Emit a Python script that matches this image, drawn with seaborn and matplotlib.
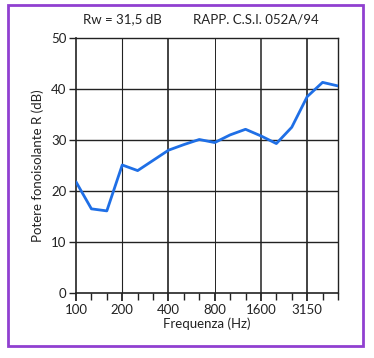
import matplotlib
matplotlib.use("Agg")
import matplotlib.pyplot as plt
import seaborn as sns
import pandas as pd
from matplotlib.patches import Rectangle

bands = [100, 125, 160, 200, 250, 315, 400, 500, 630, 800, 1000, 1250,
         1600, 2000, 2500, 3150, 4000, 5000]
r_db = [21.8, 16.5, 16.1, 25.1, 24.0, 26.0, 28.0, 29.1, 30.1, 29.5, 31.0,
        32.1, 30.8, 29.3, 32.5, 38.5, 41.3, 40.6]
tick_labels = ["100", "200", "400", "800", "1600", "3150"]
tick_bands = [100, 200, 400, 800, 1600, 3150]
y_ticks = [0, 10, 20, 30, 40, 50]

sns.set_theme(style="white")
plt.rcParams['font.family'] = ['Lato', 'DejaVu Sans']

df = pd.DataFrame({"idx": list(range(len(bands))), "R": r_db})

fig = plt.figure(figsize=(3.74, 3.58), dpi=100)
ax = fig.add_axes([76/374, 1-293/358, (338-76)/374, (293-38)/358])

major_idx = [bands.index(b) for b in tick_bands]
widths = {200: 0.8, 400: 1.2, 800: 0.7, 1600: 1.1, 3150: 1.2}
for b in tick_bands[1:]:
    ax.axvline(bands.index(b), color="#222222", lw=widths[b], zorder=1)
for y in y_ticks[1:-1]:
    ax.axhline(y, color="#222222", lw=1.0, zorder=1)

sns.lineplot(data=df, x="idx", y="R", ax=ax, color="#1f6fe6", lw=2.0, zorder=3)

ax.set_xlim(0, len(bands) - 1)
ax.set_ylim(0, 50)
ax.set_xticks(major_idx)
ax.set_xticklabels(tick_labels)
ax.set_xticks(list(range(len(bands))), minor=True)
ax.set_yticks(y_ticks)
ax.tick_params(axis="x", which="both", bottom=True, direction="out", length=5,
               width=1, color="#222222", labelsize=9.5, pad=2, labelcolor="#222222")
ax.tick_params(axis="x", which="major", length=6, width=1.3)
ax.tick_params(axis="y", which="major", left=True, direction="out", length=5,
               width=1, color="#222222", labelsize=9.5, pad=2, labelcolor="#222222")
for s in ax.spines.values():
    s.set_color("#222222")
    s.set_linewidth(1.0)
ax.spines["left"].set_linewidth(1.2)
ax.spines["bottom"].set_linewidth(1.2)

ax.set_xlabel("Frequenza (Hz)", fontsize=9.5, color="#222222", labelpad=1)
ax.set_ylabel("Potere fonoisolante R (dB)", fontsize=9.5, color="#222222", labelpad=5)

fig.text(122/374, 1-19/358, "Rw = 31,5 dB", ha="center", va="center",
         fontsize=9.5, color="#222222")
fig.text(256/374, 1-19/358, "RAPP. C.S.I. 052A/94", ha="center", va="center",
         fontsize=9.5, color="#222222")

fig.patches.append(Rectangle((8/374, 1-346/358), (363-8)/374, (346-5)/358,
                             transform=fig.transFigure, fill=False,
                             edgecolor="#9040d0", lw=2.0))

fig.savefig("out.png", dpi=100)
